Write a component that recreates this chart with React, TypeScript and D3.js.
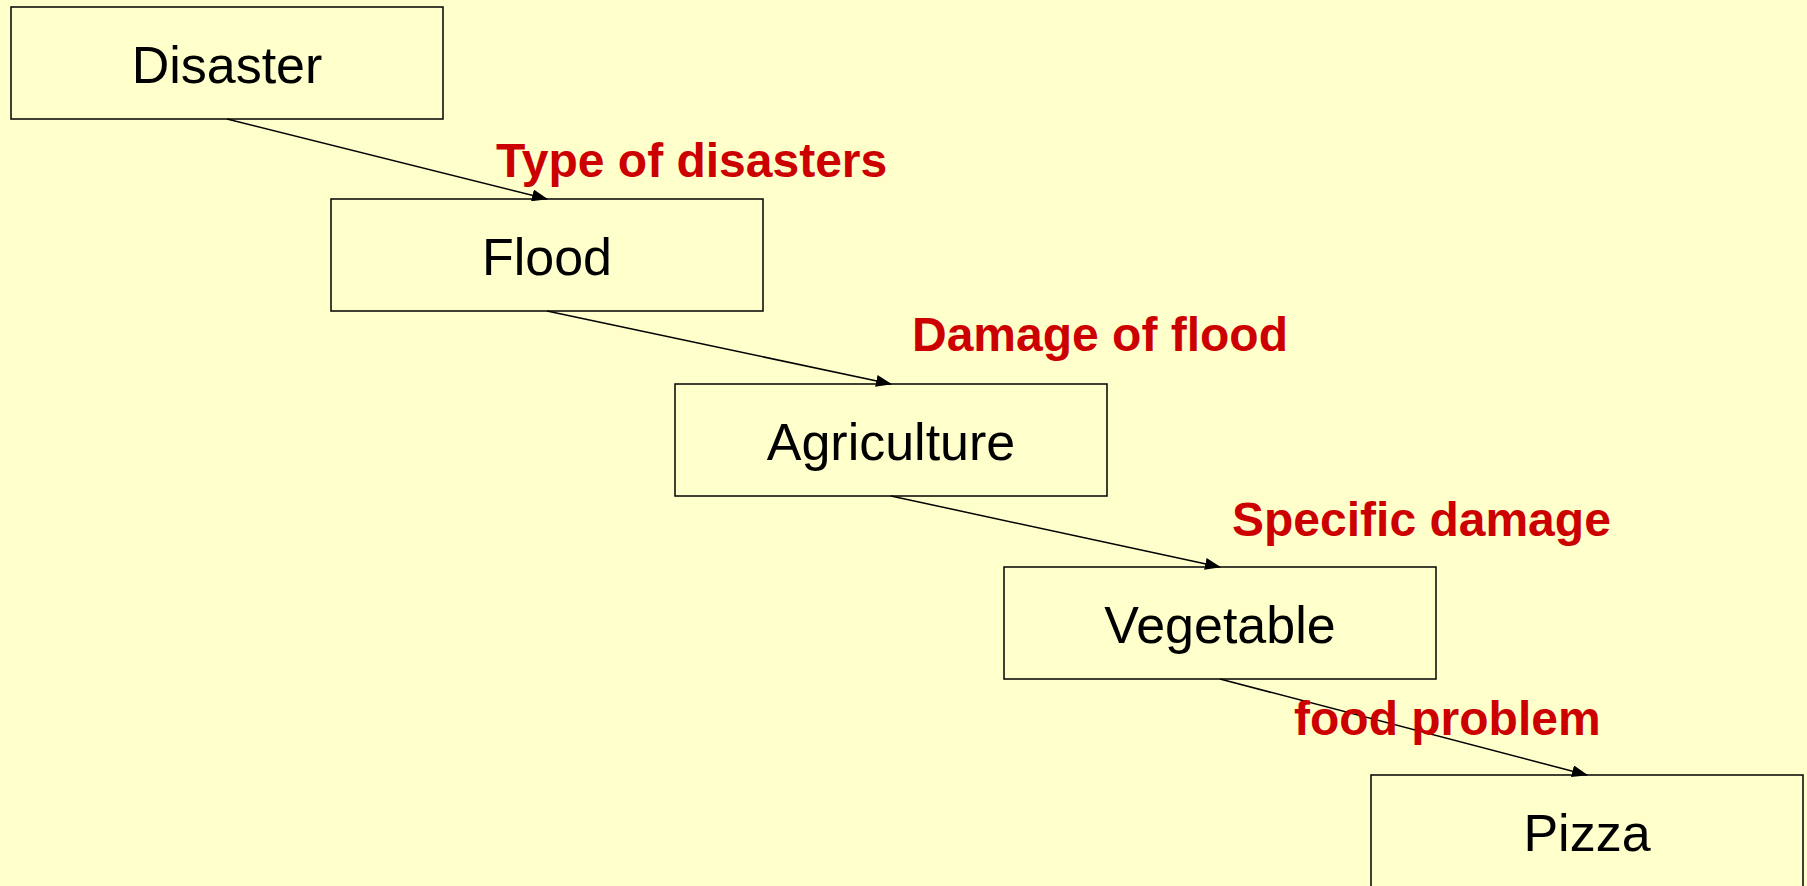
import React, { useEffect, useRef } from 'react';
import * as d3 from 'd3';

const nodes = ['Disaster', 'Flood', 'Agriculture', 'Vegetable', 'Pizza'];
const linkLabels = ['Type of disasters', 'Damage of flood', 'Specific damage', 'food problem'];

const App: React.FC = () => {
  const svgRef = useRef<SVGSVGElement | null>(null);

  useEffect(() => {
    const svg = d3.select(svgRef.current);
    svg.selectAll('*').remove();

    const width = 1807;
    const height = 886;
    const boxW = 432;
    const boxH = 112;

    svg.attr('viewBox', `0 0 ${width} ${height}`);

    svg
      .append('rect')
      .attr('width', width)
      .attr('height', height)
      .attr('fill', '#FFFFCC');

    // staircase layout, one step per level
    const levels = d3.range(nodes.length);
    const xScale = d3.scaleLinear().domain(levels).range([11, 331, 675, 1004, 1371]);
    const yScale = d3.scaleLinear().domain(levels).range([7, 199, 384, 567, 775]);
    const labelX = d3.scaleLinear().domain([0, 1, 2, 3]).range([496, 912, 1232, 1294]);
    const labelY = d3.scaleLinear().domain([0, 1, 2, 3]).range([177, 351, 536, 735]);

    svg
      .append('defs')
      .append('marker')
      .attr('id', 'arrow')
      .attr('markerUnits', 'userSpaceOnUse')
      .attr('viewBox', '0 0 16 12')
      .attr('refX', 15)
      .attr('refY', 6)
      .attr('markerWidth', 16)
      .attr('markerHeight', 12)
      .attr('orient', 'auto')
      .append('path')
      .attr('d', 'M0,0 L16,6 L0,12 Z')
      .attr('fill', '#000');

    const boxes = svg
      .selectAll('.node')
      .data(nodes)
      .join('g')
      .attr('class', 'node')
      .attr('transform', (d, i) => `translate(${xScale(i)}, ${yScale(i)})`);

    boxes
      .append('rect')
      .attr('width', boxW)
      .attr('height', boxH)
      .attr('fill', 'none')
      .attr('stroke', '#000')
      .attr('stroke-width', 1.5);

    boxes
      .append('text')
      .attr('x', boxW / 2)
      .attr('y', boxH / 2 + 20)
      .attr('text-anchor', 'middle')
      .attr('font-family', 'Arial, "Liberation Sans", sans-serif')
      .attr('font-size', 52)
      .attr('fill', '#000')
      .text((d) => d);

    const line = d3.line<[number, number]>();

    svg
      .selectAll('.link')
      .data(linkLabels)
      .join('path')
      .attr('class', 'link')
      .attr('d', (d, i) =>
        line([
          [xScale(i) + boxW / 2, yScale(i) + boxH],
          [xScale(i + 1) + boxW / 2, yScale(i + 1)],
        ])
      )
      .attr('stroke', '#000')
      .attr('stroke-width', 1.5)
      .attr('fill', 'none')
      .attr('marker-end', 'url(#arrow)');

    svg
      .selectAll('.label')
      .data(linkLabels)
      .join('text')
      .attr('class', 'label')
      .attr('x', (d, i) => labelX(i))
      .attr('y', (d, i) => labelY(i))
      .attr('font-family', 'Arial, "Liberation Sans", sans-serif')
      .attr('font-weight', 'bold')
      .attr('font-size', 48)
      .attr('fill', '#CC0000')
      .text((d) => d);
  }, []);

  return (
    <svg
      ref={svgRef}
      width={1807}
      height={886}
      style={{ position: 'absolute', left: 0, top: 0, display: 'block' }}
    />
  );
};

export default App;
